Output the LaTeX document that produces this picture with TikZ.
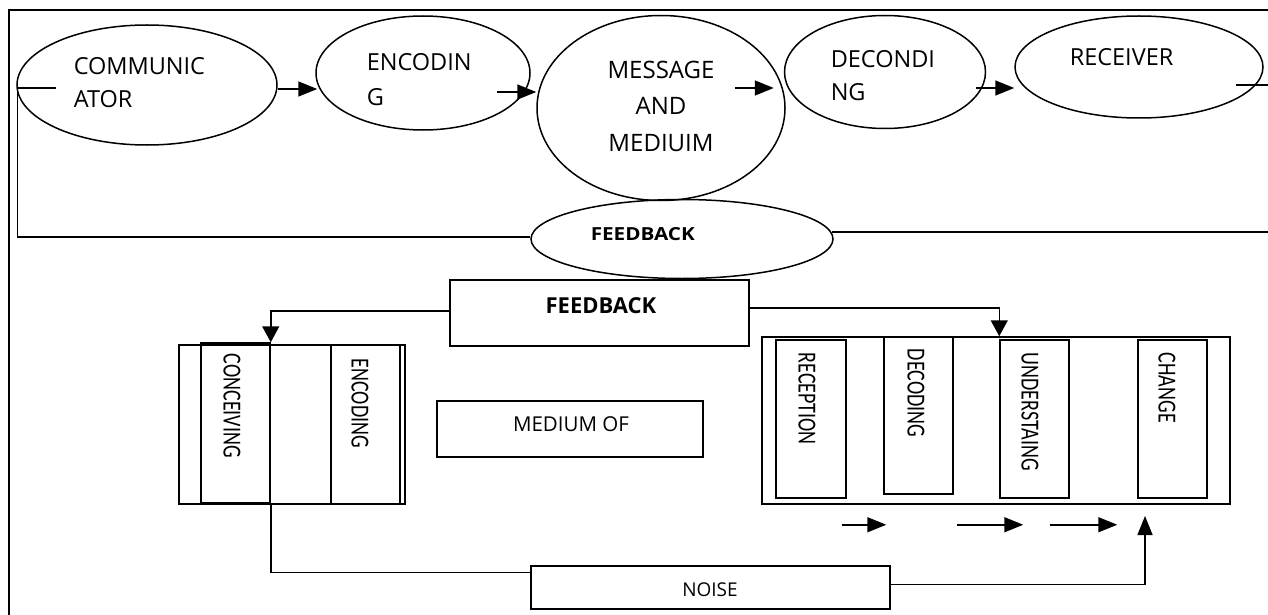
\documentclass[tikz,border=0pt]{standalone}
\usepackage{fontspec}
\usepackage{graphicx}
\setmainfont{Open Sans}
\newfontfamily\narrowfont{Carlito}
\usetikzlibrary{shapes.geometric,arrows.meta,calc}

\begin{document}
\begin{tikzpicture}[x=1pt,y=-1pt,
  line width=1.5pt,
  ell/.style={draw, ellipse, inner sep=0pt},
  box/.style={draw, rectangle, inner sep=0pt},
  arr/.style={-{Triangle[length=19pt,width=15pt]}},
  darr/.style={-{Triangle[length=16pt,width=17pt]}},
  toptext/.style={inner sep=0pt, align=left, anchor=north west},
  vtext/.style={inner sep=0pt, rotate=-90, anchor=west,
    font=\narrowfont\fontsize{26}{30}\selectfont},
  plain/.style={inner sep=0pt, anchor=base},
]
\useasboundingbox (0,0) rectangle (1268,615);

% page frame (top and left edges)
\draw[line width=2.4pt] (1268,10) -- (9,10) -- (9,615);

% ---- upper chain of ellipses ----
\node[ell, minimum width=260pt, minimum height=120pt] (comm) at (147,85) {};
\node[ell, minimum width=214pt, minimum height=114pt] (enc)  at (423,73) {};
\node[ell, minimum width=248pt, minimum height=185pt] (msg)  at (661,108) {};
\node[ell, minimum width=201pt, minimum height=113pt] (dec)  at (885,72) {};
\node[ell, minimum width=248pt, minimum height=102pt] (rec)  at (1139,67) {};
\node[ell, minimum width=302pt, minimum height=79pt]  (fb)   at (682,239) {};

\node[toptext, font=\fontsize{23.5}{33}\selectfont] (tComm) at (73,57) {COMMUNIC\\ATOR};
\node[toptext, font=\fontsize{23.5}{35}\selectfont] (tEnc) at (366,53) {ENCODIN\\G};
\node[toptext, align=center, anchor=north, font=\fontsize{24}{36.5}\selectfont] (tMsg) at (661,60) {MESSAGE\\AND\\MEDIUIM};
\node[toptext, font=\fontsize{23.5}{33}\selectfont] (tDec) at (830,50) {DECONDI\\NG};
\node[toptext, font=\fontsize{23.5}{33}\selectfont] (tRec) at (1069,48) {RECEIVER};
\node[inner sep=0pt, anchor=base west, font=\bfseries\fontsize{18}{20}\selectfont] (tFb) at (590,240) {\scalebox{1.15}[1]{FEEDBACK}};

% arrows along the chain
\draw[arr] ($(comm.east)+(0,4)$) -- ($(enc.west)+(2,16)$);
\draw[arr] ($(enc.east)+(-34,19)$) -- ($(msg.west)+(0,-16)$);
\draw[arr] ($(msg.east)+(-51,-20)$) -- ($(dec.west)+(-10,16)$);
\draw[arr] ($(dec.east)+(-10,16)$) -- ($(rec.west)+(0,21)$);
\coordinate (rEdge) at (1268,85);
\draw ($(rec.east)+(-28,18)$) -- (rEdge);

% feedback loop
\coordinate (cw) at ($(comm.west)+(1,3)$);
\draw (cw) -- +(39,0);
\draw (cw) |- ($(fb.west)+(0,-2)$);
\coordinate (fbR) at (1268,232);
\draw ($(fb.east)+(-2,-7)$) -- (fbR);

% ---- lower part ----
\node[box, minimum width=299pt, minimum height=66pt] (fbbox) at (599.5,313) {};
\node[plain, font=\bfseries\fontsize{22}{24}\selectfont] (tFbBox) at (601,313) {FEEDBACK};

% sender group
\node[box, minimum width=226pt, minimum height=159pt] (lgrp) at (292,424.5) {};
\node[box, minimum width=69pt, minimum height=160pt] (conc) at (235.5,423) {};
\node[box, minimum width=69pt, minimum height=159pt] (lenc) at (365.5,424.5) {};
\node[vtext] (tConc) at (232,353) {\scalebox{0.77}[1]{CONCEIVING}};
\node[vtext] (tLenc) at (360,358) {\scalebox{0.77}[1]{ENCODING}};

% medium
\node[box, minimum width=266pt, minimum height=56pt] (med) at (570,429) {};
\node[plain, font=\fontsize{20.5}{24}\selectfont] (tMed) at (571,431.5) {MEDIUM OF};

% receiver group
\node[box, minimum width=468pt, minimum height=167pt] (rgrp) at (996,420.5) {};
\node[box, minimum width=70pt, minimum height=158pt] (rec2) at (811,419) {};
\node[box, minimum width=69pt, minimum height=157pt] (dec2) at (918.5,415.5) {};
\node[box, minimum width=69pt, minimum height=158pt] (und)  at (1034.5,419) {};
\node[box, minimum width=69pt, minimum height=158pt] (chg)  at (1172.5,419) {};
\node[vtext] (tRec2) at (807,352)  {\scalebox{0.77}[1]{RECEPTION}};
\node[vtext] (tDec2) at (916,348)  {\scalebox{0.77}[1]{DECODING}};
\node[vtext] (tUnd)  at (1030,352) {\scalebox{0.77}[1]{UNDERSTAING}};
\node[vtext] (tChg)  at (1167,352) {\scalebox{0.77}[1]{CHANGE}};

% feedback box connectors
\draw[darr] ($(fbbox.west)+(0,-2)$) -| (conc.north east);
\draw[darr] ($(fbbox.east)+(0,-5)$) -| (rgrp.north -| und.west);

% flow arrows under the receiver group
\draw[arr] ($(rec2.south east)+(-5,26)$) -- ($(dec2.south west)+(3,30)$);
\draw[arr] ($(dec2.south east)+(3,30)$) -- ($(und.south west)+(24,26)$);
\draw[arr] ($(und.south east)+(-20,26)$) -- ($(chg.south west)+(-20,26)$);

% noise
\node[box, minimum width=359pt, minimum height=43pt] (noise) at (710.5,587.5) {};
\node[plain, font=\fontsize{19}{22}\selectfont] (tNoise) at (710,596) {NOISE};
\draw (conc.south east) |- ($(noise.north west)+(0,7)$);
\coordinate (upEnd) at (1145,516);
\draw[arr] ($(noise.east)+(0,-3)$) -| (upEnd);
\end{tikzpicture}
\end{document}
